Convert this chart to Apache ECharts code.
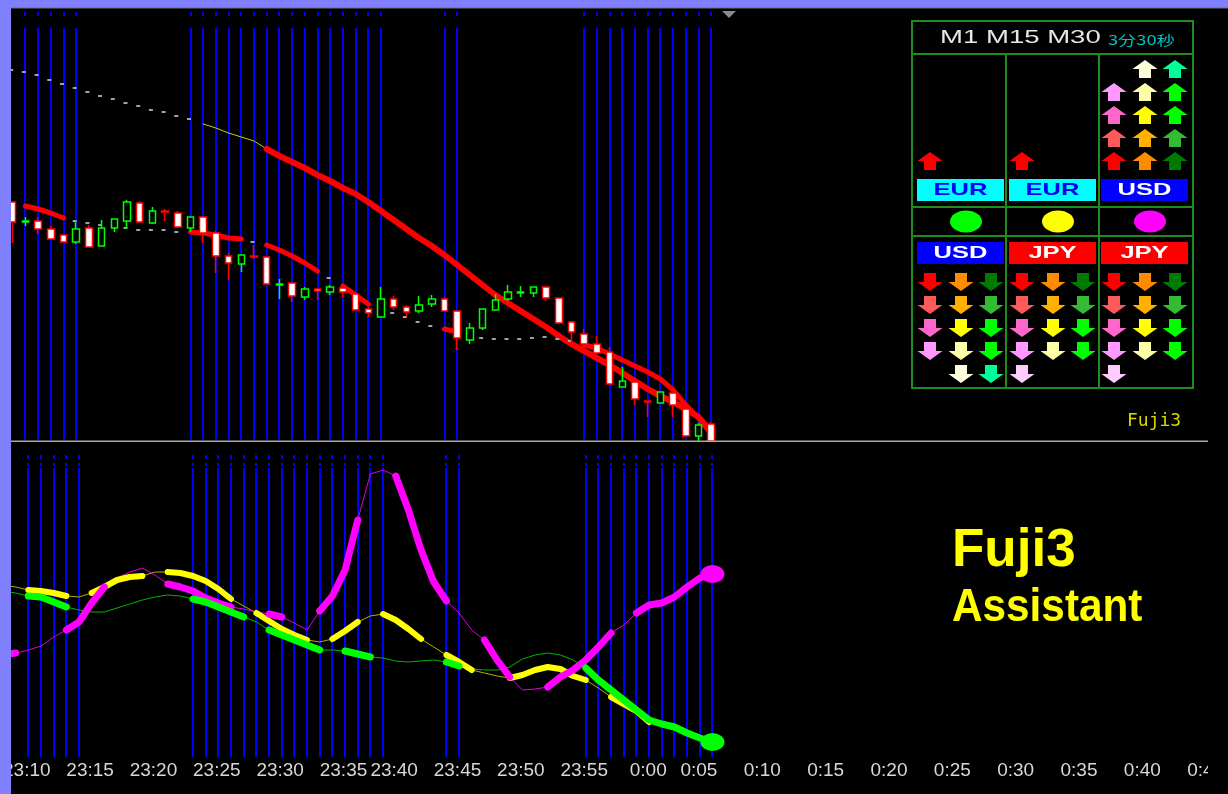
<!DOCTYPE html>
<html>
<head>
<meta charset="utf-8">
<title>Fuji3</title>
<script src="https://cdn.jsdelivr.net/npm/echarts@6/dist/echarts.min.js"></script>
<style>
  html, body { margin: 0; padding: 0; background: #000; }
  #main { width: 1228px; height: 794px; }
</style>
</head>
<body>
<div id="main"></div>
<script>
// M1 chart from 23:10, one minute has no bar before index 26 and before index 50
const startMin = 23 * 60 + 10
const gapsBefore = [26, 50]
const barCount = 97

// price pane: values read as depth from the top of the picture (axis is inverted)
// [open, close, top, bottom], bars 1..56
const candles = [
  [202, 222, 202, 243], [222, 221, 217, 226], [221, 229, 217, 234], [229, 239, 226, 239],
  [235, 242, 235, 242], [242, 229, 221, 244], [228, 247, 225, 247], [246, 228, 220, 246],
  [228, 219, 219, 232], [221, 202, 200, 229], [203, 222, 201, 222], [223, 211, 207, 224],
  [211, 212, 209, 221], [213, 227, 211, 228], [228, 217, 217, 232], [217, 233, 216, 243],
  [233, 256, 231, 273], [256, 263, 253, 280], [264, 255, 255, 272], [256, 257, 245, 259],
  [257, 284, 257, 284], [285, 284, 279, 299], [283, 296, 283, 302], [297, 289, 287, 300],
  [289, 291, 289, 300], [292, 287, 285, 295], [288, 292, 286, 297], [294, 310, 292, 310],
  [309, 313, 307, 317], [317, 299, 287, 317], [299, 307, 296, 310], [307, 312, 305, 317],
  [311, 305, 296, 313], [304, 299, 295, 307], [299, 311, 297, 311], [311, 338, 311, 350],
  [340, 328, 323, 344], [328, 309, 309, 330], [310, 300, 294, 310], [299, 292, 285, 301],
  [293, 292, 286, 297], [293, 287, 287, 297], [287, 298, 287, 301], [298, 323, 298, 324],
  [322, 332, 321, 342], [334, 344, 329, 344], [344, 353, 336, 353], [352, 384, 347, 384],
  [387, 381, 367, 387], [382, 399, 379, 405], [401, 402, 401, 417], [403, 392, 392, 403],
  [393, 405, 393, 417], [409, 436, 409, 436], [436, 425, 423, 441], [424, 441, 422, 441]
]

// slow MA (bars 0..56)
const maSlow = [68, 70, 72, 75, 80, 84, 88, 92, 96, 99, 103, 106, 110, 112, 116, 119,
  124, 128, 133, 137, 141, 149, 156, 162, 168, 175, 181, 188, 194, 202, 211, 220, 229,
  238, 246, 255, 265, 275, 285, 295, 303, 311, 319, 327, 336, 344, 351, 358, 365, 373,
  381, 389, 396, 402, 409, 417, 432]
const maSlowDots = [0, 15]
const maSlowYellow = [16, 21]
const maSlowRed = [21, 56]

// fast MA (bars 0..56)
const maFast = [null, 203, 206, 209, 213, 218, 221, 223, 225, 226, 228, 230, 230, 230,
  232, 232, 233, 235, 238, 239, 242, 245, 250, 256, 263, 271, 278, 286, 295, 304, 309,
  313, 317, 322, 326, 329, 332, 335, 338, 339, 339, 339, 338, 337, 339, 341, 345, 348,
  354, 360, 366, 372, 379, 390, 405, 418, 434]
const maFastRed = [[2, 5], [15, 19], [21, 25], [27, 29], [35, 36], [46, 56]]

// signal bars (blue verticals)
const signalBars = [2, 3, 4, 5, 6, 15, 16, 17, 18, 19, 20, 21, 22, 23, 24, 25, 26, 27,
  28, 29, 30, 35, 36, 46, 47, 48, 49, 50, 51, 52, 53, 54, 55, 56]

// strength pane, depth from top (bars 0..56)
const magenta = [655, 653, 650, 646, 637, 630, 622, 603, 587, 578, 572, 568, 575, 584,
  587, 591, 598, 603, 607, 609, 612, 614, 617, 623, 630, 611, 596, 570, 520, 474, 470,
  476, 510, 550, 582, 601, 613, 630, 640, 660, 677, 690, 689, 687, 677, 670, 660, 647,
  633, 625, 613, 605, 603, 597, 587, 578, 574]
const magentaThick = [[0, 1], [5, 8], [13, 18], [21, 22], [25, 28], [31, 35], [38, 40], [43, 48], [50, 56]]

const yellow = [585, 587, 590, 591, 593, 596, 597, 593, 587, 580, 577, 576, 572, 572,
  573, 576, 581, 589, 599, 606, 613, 621, 629, 635, 640, 642, 639, 631, 622, 616, 614,
  620, 629, 639, 647, 655, 662, 670, 673, 676, 678, 675, 670, 667, 669, 676, 680, 688,
  697, 704, 711, 722, 726, 730, 735, 740, 744]
const yellowThick = [[2, 5], [7, 11], [13, 18], [20, 24], [26, 28], [30, 33], [35, 37], [40, 46], [48, 51]]

const green = [591, 593, 596, 597, 602, 607, 610, 612, 612, 608, 604, 600, 597, 595,
  596, 599, 602, 607, 612, 617, 622, 630, 635, 640, 645, 650, 650, 651, 654, 657, 658,
  661, 662, 661, 660, 662, 666, 669, 670, 670, 667, 659, 655, 653, 655, 660, 668, 680,
  690, 700, 710, 720, 724, 727, 733, 738, 742]
const greenThick = [[2, 5], [15, 19], [21, 25], [27, 29], [35, 36], [46, 56]]

// panel
const topCcy = ['EUR', 'EUR', 'USD']
const bottomCcy = ['USD', 'JPY', 'JPY']
const dotColors = ['#00ff00', '#ffff00', '#ff00ff']
const upCount = [[1, 0, 0], [1, 0, 0], [4, 5, 5]]
const downCount = [[4, 5, 5], [5, 4, 4], [5, 4, 4]]
const arrowColors = [
  ['#ff0000', '#ff5a5a', '#ff66cc', '#ff99ff', '#ffccff'],
  ['#ff8c00', '#ffb000', '#ffff00', '#ffffaa', '#ffffdd'],
  ['#007a00', '#33bb33', '#00ff00', '#00ff00', '#00ff99']
]

const times = []
for (let i = 0; i < barCount; i++) {
  const m = (startMin + i + gapsBefore.filter(g => i >= g).length) % 1440
  times.push(Math.floor(m / 60) + ':' + String(m % 60).padStart(2, '0'))
}

const inRanges = (i, ranges) => ranges.some(([a, b]) => i >= a && i <= b)
const pick = (vals, ranges) => vals.map((v, i) => inRanges(i, ranges) ? v : null)

function line(data, color, width, xi, z) {
  return {
    type: 'line', xAxisIndex: xi, yAxisIndex: xi, data, symbol: 'none', silent: true, z,
    connectNulls: false, lineStyle: { color, width, cap: 'round', join: 'round' }
  }
}

function dots(vals, keep) {
  return {
    type: 'scatter', xAxisIndex: 0, yAxisIndex: 0, silent: true, z: 3,
    symbol: 'rect', symbolSize: [4, 2], symbolOffset: [-1.5, 0],
    itemStyle: { color: '#9aa4b8', opacity: 1 },
    data: vals.map((v, i) => [i, v]).filter(d => d[1] != null && keep(d[0]))
  }
}

function vlines(xi, segs) {
  return {
    type: 'custom', xAxisIndex: xi, yAxisIndex: xi, z: 1, silent: true,
    data: signalBars.map(i => [i, xi ? 600 : 200]),
    renderItem: (params, api) => {
      const x = Math.round(api.coord([api.value(0), api.value(1)])[0])
      return {
        type: 'group',
        children: segs.map(([y1, y2]) => ({
          type: 'line', shape: { x1: x, y1, x2: x, y2 }, style: { stroke: '#0000ff', lineWidth: 2 }
        }))
      }
    }
  }
}

function arrow(cx, cy, up, color) {
  const s = up ? 1 : -1
  return {
    type: 'polygon', z: 100, silent: true,
    shape: { points: [[cx, cy - 9 * s], [cx + 12.5, cy], [cx + 6, cy], [cx + 6, cy + 9 * s],
      [cx - 6, cy + 9 * s], [cx - 6, cy], [cx - 12.5, cy]] },
    style: { fill: color }
  }
}

function txt(x, y, text, font, fill, align, sx) {
  return {
    type: 'text', x, y, z: 101, silent: true, scaleX: sx || 1,
    style: { x: 0, y: 0, text, font, fill, textAlign: align || 'left', textVerticalAlign: 'middle' }
  }
}

function rect(x, y, w, h, fill, z) {
  return { type: 'rect', z: z || 100, silent: true, shape: { x, y, width: w, height: h }, style: { fill } }
}

function hl(x1, y1, x2, y2) {
  return { type: 'line', z: 101, silent: true, shape: { x1, y1, x2, y2 }, style: { stroke: '#1e8c1e', lineWidth: 2 } }
}

const ccyStyle = {
  EUR: ['#00ffff', '#0000ff'],
  USD: ['#0000ff', '#ffffff'],
  JPY: ['#ff0000', '#ffffff']
}
const colLeft = [917, 1009, 1101]
const subX = [[930, 961, 991], [1022, 1053, 1083], [1114, 1145, 1175]]

const graphic = [
  // panel frame
  { type: 'rect', z: 100, silent: true, shape: { x: 912, y: 21, width: 281, height: 367 },
    style: { fill: '#000', stroke: '#1e8c1e', lineWidth: 2 } },
  hl(912, 54, 1193, 54), hl(912, 207, 1193, 207), hl(912, 236, 1193, 236),
  hl(1006, 54, 1006, 388), hl(1099, 54, 1099, 388),
  txt(940, 38, 'M1 M15 M30', '19px "Liberation Sans", Arial, sans-serif', '#e6e6e6', 'left', 1.45),
  txt(1108, 40, '3分30秒', '13px "Noto Sans CJK JP", sans-serif', '#00c0c0', 'left', 1.4)
]
for (let c = 0; c < 3; c++) {
  const a = ccyStyle[topCcy[c]], b = ccyStyle[bottomCcy[c]]
  graphic.push(rect(colLeft[c], 179, 87, 22, a[0], 101))
  graphic.push(txt(colLeft[c] + 43.5, 190.5, topCcy[c], 'bold 17px "Liberation Sans", Arial, sans-serif', a[1], 'center', 1.5))
  graphic.push(rect(colLeft[c], 242, 87, 22, b[0], 101))
  graphic.push(txt(colLeft[c] + 43.5, 253.5, bottomCcy[c], 'bold 17px "Liberation Sans", Arial, sans-serif', b[1], 'center', 1.5))
  graphic.push({ type: 'ellipse', z: 101, silent: true, shape: { cx: colLeft[c] + 49, cy: 221.5, rx: 16, ry: 11 }, style: { fill: dotColors[c] } })
  for (let s = 0; s < 3; s++) {
    for (let l = 0; l < upCount[c][s]; l++) graphic.push(arrow(subX[c][s], 161 - 23 * l, true, arrowColors[s][l]))
    for (let l = 0; l < downCount[c][s]; l++) graphic.push(arrow(subX[c][s], 282 + 23 * l, false, arrowColors[s][l]))
  }
}
graphic.push(
  txt(1127, 421.5, 'Fuji3', '18px "DejaVu Sans Mono", monospace', '#d8d800'),
  txt(952, 551, 'Fuji3', 'bold 53px "Liberation Sans", Arial, sans-serif', '#ffff00'),
  txt(952, 608, 'Assistant', 'bold 47px "Liberation Sans", Arial, sans-serif', '#ffff00', 'left', 0.9),
  // pane separator, chart-shift mark, label clip
  rect(11, 440.5, 1197, 1.5, '#a8a8a8'),
  { type: 'polygon', z: 100, silent: true, shape: { points: [[722, 11], [736, 11], [729, 18]] }, style: { fill: '#8a8a8a' } },
  rect(1208, 761, 20, 33, '#000'),
  // window border
  rect(0, 7, 1228, 1.5, '#707070', 110),
  rect(0, 0, 1228, 7.5, '#8080ff', 111),
  rect(0, 0, 11, 794, '#8080ff', 111)
)

const chart = echarts.init(document.getElementById('main'))
chart.setOption({
  animation: false,
  backgroundColor: '#000',
  grid: [
    { left: 0, right: 8.8, top: 8, height: 433 },
    { left: 0, right: 8.8, top: 441, height: 319 }
  ],
  xAxis: [
    { type: 'category', gridIndex: 0, data: times, boundaryGap: false, show: false },
    {
      type: 'category', gridIndex: 1, data: times, boundaryGap: false,
      axisLine: { show: false }, axisTick: { show: false }, splitLine: { show: false },
      axisLabel: {
        interval: (i, v) => v.endsWith('0') || v.endsWith('5'),
        align: 'left', verticalAlign: 'middle', margin: 11,
        color: '#d8d8d8', fontSize: 19, fontFamily: '"Liberation Sans", Arial, sans-serif',
        formatter: v => v.startsWith('0:') ? '{s|' + v + '}' : v,
        rich: { s: { padding: [0, 0, 0, 6], color: '#d8d8d8', fontSize: 19, fontFamily: '"Liberation Sans", Arial, sans-serif' } }
      }
    }
  ],
  yAxis: [
    { type: 'value', gridIndex: 0, inverse: true, min: 8, max: 441, show: false },
    { type: 'value', gridIndex: 1, inverse: true, min: 441, max: 760, show: false }
  ],
  graphic,
  series: [
    vlines(0, [[12, 16], [28, 440]]),
    vlines(1, [[455, 459], [463, 466], [468, 757]]),

    dots(maSlow, i => inRanges(i, [maSlowDots])),
    line(pick(maSlow, [maSlowYellow]), '#d0d000', 1, 0, 2),
    line(pick(maSlow, [maSlowRed]), '#ff0000', 6, 0, 2),
    dots(maFast, i => !inRanges(i, maFastRed)),
    line(pick(maFast, maFastRed), '#ff0000', 5, 0, 2),
    {
      type: 'candlestick', xAxisIndex: 0, yAxisIndex: 0, z: 5, silent: true, barWidth: 7,
      data: [['-', '-', '-', '-']].concat(candles),
      itemStyle: { color: '#ffffff', borderColor: '#ff0000', color0: '#000000', borderColor0: '#00ff00', borderWidth: 1.5 }
    },

    line(yellow, '#b0b000', 1, 1, 2),
    line(green, '#00b400', 1, 1, 2),
    line(magenta, '#e000e0', 1, 1, 2),
    line(pick(yellow, yellowThick), '#ffff00', 6, 1, 3),
    line(pick(magenta, magentaThick), '#ff00ff', 7, 1, 4),
    line(pick(green, greenThick), '#00ff00', 7, 1, 5),
    {
      type: 'scatter', xAxisIndex: 1, yAxisIndex: 1, z: 6, silent: true, symbolSize: [24, 18],
      data: [
        { value: [56, magenta[56]], itemStyle: { color: '#ff00ff', opacity: 1 } },
        { value: [56, green[56]], itemStyle: { color: '#00ff00', opacity: 1 } }
      ]
    }
  ]
})
</script>
</body>
</html>
